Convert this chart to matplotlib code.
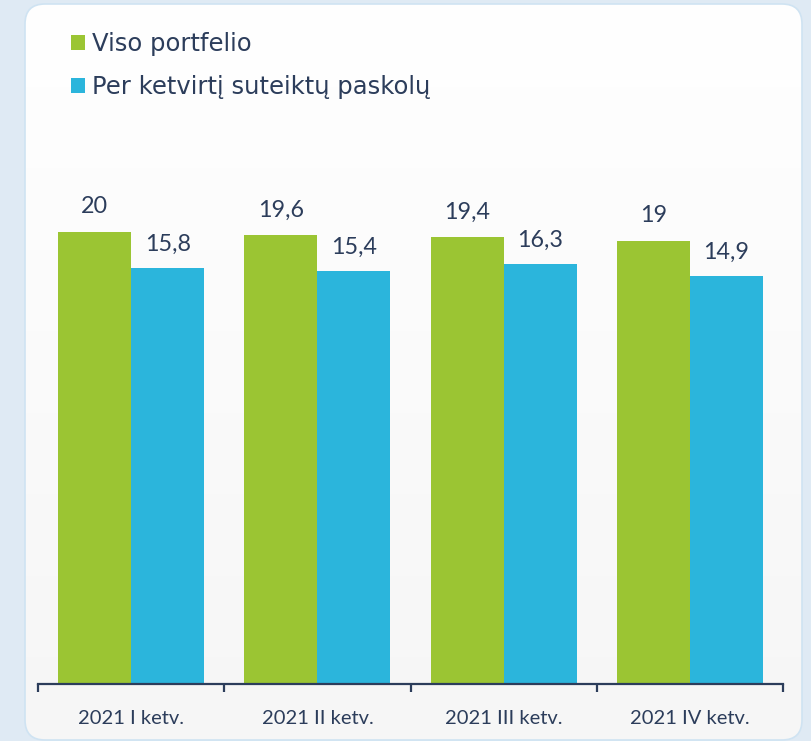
import matplotlib
matplotlib.use("Agg")
import matplotlib.pyplot as plt
import numpy as np
from matplotlib.patches import FancyBboxPatch, Patch
from matplotlib.colors import LinearSegmentedColormap

categories = ["2021 I ketv.", "2021 II ketv.", "2021 III ketv.", "2021 IV ketv."]
series_names = ["Viso portfelio", "Per ketvirtį suteiktų paskolų"]
viso = [20, 19.6, 19.4, 19]
per_ketv = [15.8, 15.4, 16.3, 14.9]
labels_viso = ["20", "19,6", "19,4", "19"]
labels_per = ["15,8", "15,4", "16,3", "14,9"]

GREEN = "#9bc533"
BLUE = "#2bb5dc"
TEXT = "#2c3d5b"
W, H = 811, 741

plt.rcParams['font.family'] = ['Lato', 'DejaVu Sans']

fig = plt.figure(figsize=(W / 100, H / 100), dpi=100, facecolor="#dfeaf4")

# background card
bg = fig.add_axes([0, 0, 1, 1])
bg.set_xlim(0, W)
bg.set_ylim(H, 0)
bg.axis("off")
card = FancyBboxPatch((25, 4), 777, 736, boxstyle="round,pad=0,rounding_size=20",
                      facecolor="none", edgecolor="#cfe3f2", linewidth=1.2, zorder=2)
bg.add_patch(card)
grad = np.linspace(0, 1, 256).reshape(-1, 1)
cmap = LinearSegmentedColormap.from_list("g", ["#ffffff", "#f6f6f6"])
im = bg.imshow(grad, extent=(25, 802, 740, 4), cmap=cmap, aspect="auto", zorder=1)
im.set_clip_path(card)

# main axes
left, right, base, top = 38, 783, 684, 150
ax = fig.add_axes([left / W, (H - base) / H, (right - left) / W, (base - top) / H])
ax.patch.set_alpha(0)
ymin, ymax = -32.74, 29.57
ax.set_ylim(ymin, ymax)
ax.set_xlim(-0.5, 3.5)

x = np.arange(len(categories))
bw = 0.392
ax.bar(x - bw / 2, np.array(viso) - ymin, bw, bottom=ymin, color=GREEN, linewidth=0)
ax.bar(x + bw / 2, np.array(per_ketv) - ymin, bw, bottom=ymin, color=BLUE, linewidth=0)

for xi, v, l in zip(x, viso, labels_viso):
    ax.annotate(l, (xi - bw / 2, v), xytext=(0, 10.5), textcoords="offset points",
                ha="center", va="bottom", fontsize=16.8, color=TEXT)
for xi, v, l in zip(x, per_ketv, labels_per):
    ax.annotate(l, (xi + bw / 2, v), xytext=(0, 9.5), textcoords="offset points",
                ha="center", va="bottom", fontsize=16.8, color=TEXT)

for s in ["top", "right", "left"]:
    ax.spines[s].set_visible(False)
ax.spines["bottom"].set_color(TEXT)
ax.spines["bottom"].set_linewidth(1.6)
ax.set_yticks([])
ax.set_xticks(x)
ax.set_xticklabels(categories, fontsize=14.5, color=TEXT)
ax.tick_params(axis="x", which="major", length=0, pad=19)
ax.set_xticks([-0.5, 0.5, 1.5, 2.5, 3.5], minor=True)
ax.tick_params(axis="x", which="minor", length=6, width=1.6, color=TEXT)

handles = [Patch(facecolor=GREEN, edgecolor="none"), Patch(facecolor=BLUE, edgecolor="none")]
leg = fig.legend(handles, series_names, loc="upper left",
                 bbox_to_anchor=(71 / W, 1 - 32 / H), frameon=False,
                 prop={"family": ["DejaVu Sans"], "size": 17.5},
                 handlelength=0.57, handleheight=0.57,
                 handletextpad=0.3, labelspacing=0.8, borderpad=0, borderaxespad=0)
for t in leg.get_texts():
    t.set_color(TEXT)

fig.savefig("out.png", dpi=100, facecolor=fig.get_facecolor())
